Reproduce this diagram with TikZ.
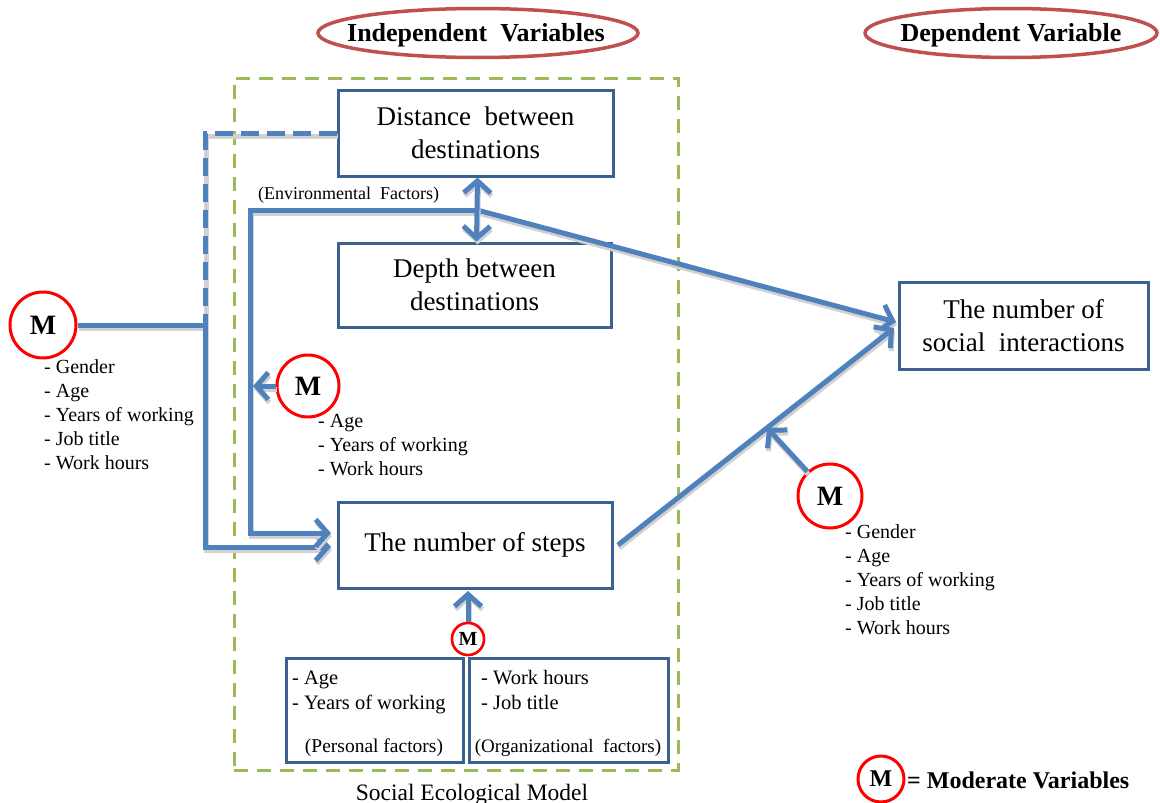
\documentclass[tikz,border=0pt]{standalone}
\usepackage{fontspec}
\setmainfont{Liberation Serif}
\usetikzlibrary{arrows.meta,calc,shapes.geometric}
\definecolor{conblue}{HTML}{4F81BD}
\definecolor{boxblue}{HTML}{3B6190}
\definecolor{ellred}{HTML}{C0504D}
\definecolor{grn}{HTML}{9BBB59}
\tikzset{
  box/.style={draw=boxblue, line width=3pt, fill=white, align=center, inner sep=0pt,
    font=\fontsize{27}{33}\selectfont},
  conn/.style={draw=conblue, line width=5pt,
    preaction={draw=black!18, line width=5pt, transform canvas={shift={(1pt,-3pt)}}}},
  tip/.style={-{Straight Barb[length=12pt,width=27pt]}},
  mcirc/.style={circle, draw=red, line width=3pt, fill=white, inner sep=0pt, font=\bfseries},
  title/.style={inner sep=0pt, font=\bfseries\fontsize{26}{30}\selectfont},
  item/.style={anchor=base west, inner sep=0pt, font=\fontsize{20}{24}\selectfont},
  bitem/.style={anchor=base west, inner sep=0pt, font=\fontsize{20.5}{24}\selectfont},
  lbl/.style={anchor=base, inner sep=0pt},
}
\begin{document}
\begin{tikzpicture}[x=1pt,y=-1pt]
\useasboundingbox (0,0) rectangle (1160,803);
\clip (0,0) rectangle (1160,803);

% titles
\node[title] (ind) at (476,35) {Independent\ \ Variables};
\draw[ellred, line width=3.5pt] (478,33) ellipse (160pt and 24.5pt);
\node[title] (dep) at (1011,35) {Dependent Variable};
\draw[ellred, line width=3.5pt] (1011,33) ellipse (146pt and 24.5pt);

% social ecological model frame
\node[draw=grn, line width=3pt, dash pattern=on 14pt off 9pt, minimum width=444pt, minimum height=692pt, inner sep=0pt] (sem) at (456,424) {};
\node[lbl, font=\fontsize{23.5}{24}\selectfont] (semlbl) at (472,800) {Social Ecological Model};

% boxes
\node[box, minimum width=275pt, minimum height=86pt] (dist) at (475.5,133) {Distance\ \ between\\destinations};
\node[box, minimum width=273pt, minimum height=84pt] (depth) at (474.5,285) {Depth between\\destinations};
\node[box, minimum width=274pt, minimum height=86pt] (steps) at (475,545) {The number of steps};
\node[box, minimum width=249pt, minimum height=87pt] (soc) at (1023.5,325.5) {The number of\\social\ \ interactions};
\node[box, minimum width=177pt, minimum height=104pt] (pers) at (374.5,710) {};
\node[box, minimum width=199pt, minimum height=104pt] (org) at (568.5,710) {};

\node[lbl, anchor=base west, font=\fontsize{18}{20}\selectfont] (env) at (258,199) {(Environmental\ \ Factors)};

% moderator circles
\node[mcirc, minimum size=66pt, font=\bfseries\fontsize{28}{28}\selectfont] (M1) at (43,325) {M};
\node[mcirc, minimum size=62pt, font=\bfseries\fontsize{28}{28}\selectfont] (M2) at (308,386) {M};
\node[mcirc, minimum size=64pt, font=\bfseries\fontsize{28}{28}\selectfont] (M3) at (830,496) {M};
\node[mcirc, minimum size=32pt, line width=2.5pt, font=\bfseries\fontsize{20}{20}\selectfont] (M4) at (468,639) {M};
\node[mcirc, minimum size=46pt, font=\bfseries\fontsize{24}{24}\selectfont] (ML) at (881,779) {M};
\node[anchor=base west, inner sep=0pt, font=\bfseries\fontsize{24}{24}\selectfont] (legend) at (907,788) {= Moderate Variables};

% coordinates
\coordinate (J1) at (205,325);
\coordinate (E) at (477,210);
\coordinate (EL) at (250,210);
\coordinate (T1) at (331,547);
\coordinate (T2) at (331,533);
\coordinate (T3) at (896,322);
\coordinate (S1) at (618,545);
\coordinate (T4) at (894,328);
\coordinate (MID) at ($(S1)!0.54!(T4)$);
\coordinate (M2t) at (253,386);
\coordinate (T5) at (468,591);

% connectors
\draw[conn, dash pattern=on 18pt off 8pt] (dist.west) -| (J1);
\draw[conn, tip] (M1) -- (J1) |- (T1);
\draw[conn, tip] (E) -- (EL) |- (T2);
\draw[conn, tip] (E) -- (T3);
\draw[conn, {Straight Barb[length=12pt,width=27pt]}-{Straight Barb[length=12pt,width=27pt]}] ([xshift=2pt]dist.south) -- ([xshift=2pt]depth.north);
\draw[conn, tip] (S1) -- (T4);
\draw[conn, tip] (M3) -- (MID);
\draw[conn, tip] (M2) -- (M2t);
\draw[conn, tip] (M4) -- (T5);

% redraw circles over line shadows
\node[mcirc, minimum size=32pt, line width=2.5pt, font=\bfseries\fontsize{20}{20}\selectfont] (M4b) at (468,639) {M};

% lists
\foreach \t [count=\i from 0] in {Gender, Age, Years of working, Job title, Work hours}
  \node[item] (La\i) at (44,373+24*\i) {- \t};
\foreach \t [count=\i from 0] in {Age, Years of working, Work hours}
  \node[item] (Lb\i) at (318,427+24*\i) {- \t};
\foreach \t [count=\i from 0] in {Gender, Age, Years of working, Job title, Work hours}
  \node[item] (Lc\i) at (845,538+24*\i) {- \t};

\node[bitem] (P1) at (292,684) {- Age};
\node[bitem] (P2) at (292,709) {- Years of working};
\node[lbl, font=\fontsize{19.5}{24}\selectfont] (P3) at (374,752) {(Personal factors)};
\node[bitem] (O1) at (481,684) {- Work hours};
\node[bitem] (O2) at (481,709) {- Job title};
\node[lbl, font=\fontsize{19}{24}\selectfont] (O3) at (568,752) {(Organizational\ \ factors)};
\end{tikzpicture}
\end{document}
